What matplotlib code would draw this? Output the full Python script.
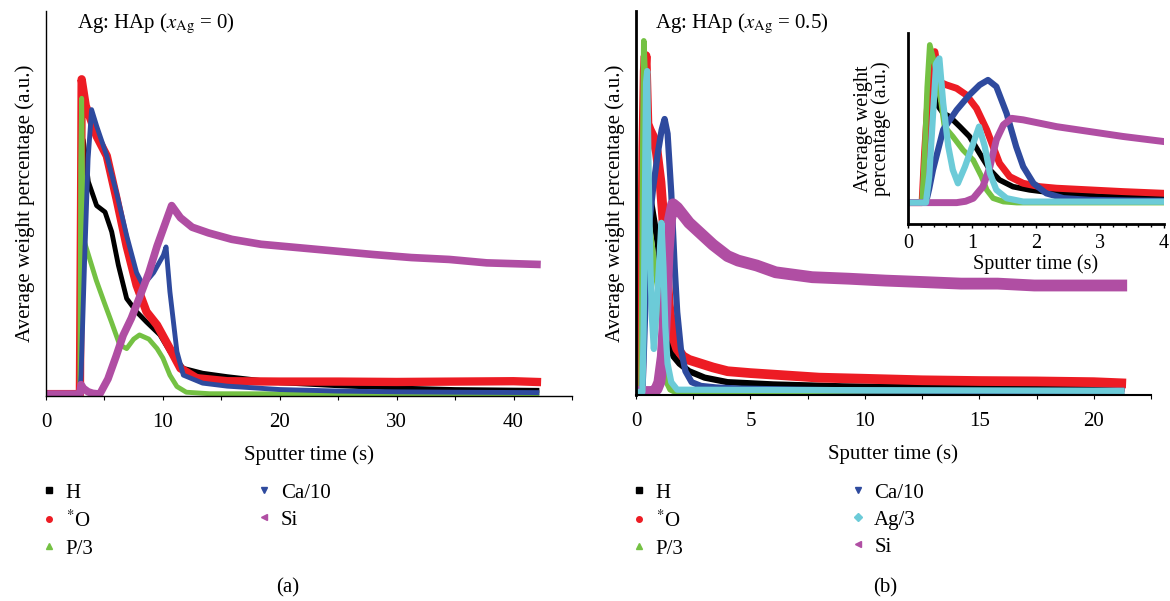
import matplotlib.pyplot as plt
from matplotlib.lines import Line2D
from matplotlib.ticker import MultipleLocator

plt.rcParams['font.family'] = ['Liberation Serif', 'DejaVu Serif']
plt.rcParams['mathtext.fontset'] = 'stix'

# (a) Ag: HAp, x_Ag = 0  -- sputter time (s) / relative intensity
a_h_t = [0, 2.9, 3.0, 3.19, 3.62, 4.33, 5.05, 5.62, 6.19, 6.9, 7.75, 8.6, 9.75, 10.6, 11.75, 13.4, 15.5, 20, 25, 30, 35, 42]
a_h_y = [0, 0, 40, 67, 56, 49.7, 48, 42.8, 34, 25.2, 21.7, 19, 15.6, 11.2, 6.8, 5.5, 4.6, 3.0, 2.2, 1.6, 1.2, 1.0]

a_o_t = [0, 2.9, 3.0, 3.05, 3.4, 3.76, 4.33, 5.2, 6.04, 6.9, 7.75, 8.6, 9.5, 10.6, 11.5, 12.9, 15.5, 20, 25, 30, 35, 40, 42]
a_o_y = [0, 0, 50, 83, 76, 73, 68, 62.8, 51.4, 39, 28.7, 21.7, 18.2, 12, 6.8, 4.2, 3.4, 3.3, 3.3, 3.2, 3.3, 3.4, 3.2]

a_p_t = [0, 2.9, 2.97, 3.05, 3.15, 3.3, 4.3, 5.0, 5.6, 6.3, 6.9, 7.5, 8.0, 8.8, 9.5, 10.0, 10.6, 11.2, 12.0, 14.0, 42]
a_p_y = [0, 0, 60, 78, 50, 40, 30, 24, 19, 13, 12, 14.5, 15.6, 14.5, 12, 9.5, 5, 2, 0.5, 0.1, 0]

a_ca_t = [0, 2.9, 3.0, 3.3, 3.6, 3.9, 4.33, 5.2, 6.04, 6.9, 7.75, 8.3, 9.2, 10.04, 10.27, 10.6, 11.2, 11.75, 13.4, 15.5, 20, 25, 30, 35, 42]
a_ca_y = [0, 0, 5, 35, 62, 75, 70.7, 62.8, 53, 41.8, 32, 28.7, 32, 36.6, 38.8, 27, 11.2, 5, 2.9, 2.1, 1.2, 0.8, 0.6, 0.5, 0.4]

a_si_t = [0, 2.9, 3.0, 3.2, 3.6, 4.0, 4.6, 5.3, 6.0, 6.6, 7.3, 8.0, 8.8, 9.5, 10.2, 10.75, 11.5, 12.5, 13.9, 15.9, 18.4, 21.6, 24.8, 28, 31.25, 34.5, 37.7, 42]
a_si_y = [0, 0, 2.5, 1.5, 0.6, 0.2, 0, 4, 10, 15.5, 20, 25.5, 32, 39, 45, 49.7, 46.5, 44, 42.5, 40.8, 39.5, 38.6, 37.7, 36.8, 36, 35.5, 34.6, 34.2]

# (b) Ag: HAp, x_Ag = 0.5
b_h_t = [0, 0.22, 0.27, 0.32, 0.37, 0.44, 0.55, 0.65, 0.81, 0.96, 1.12, 1.28, 1.43, 1.64, 1.9, 2.32, 3.0, 4.0, 6.0, 9.0, 13.0, 17.0, 21.2]
b_h_y = [0, 0, 30, 60, 72, 58.6, 52.7, 50.7, 44.8, 39, 29, 19.3, 13.4, 9.4, 7.5, 5.5, 3.8, 2.6, 2.0, 1.5, 1.2, 1.0, 0.9]

b_o_t = [0, 0.22, 0.26, 0.32, 0.38, 0.42, 0.5, 0.6, 0.76, 0.91, 1.07, 1.23, 1.33, 1.43, 1.59, 1.8, 2.06, 2.32, 2.84, 3.36, 4.0, 5.0, 6.5, 8.0, 10.0, 12.5, 15.0, 17.5, 20.0, 21.2]
b_o_y = [0, 0, 30, 65, 85, 89, 71, 69.4, 67.4, 63.5, 55.6, 42.9, 33, 23.2, 15.3, 11.4, 9.4, 8.5, 7.5, 6.5, 5.5, 5.0, 4.4, 3.8, 3.5, 3.1, 2.9, 2.8, 2.6, 2.3]

b_p_t = [0, 0.22, 0.26, 0.3, 0.34, 0.44, 0.52, 0.57, 0.7, 0.86, 1.02, 1.15, 1.23, 1.33, 1.49, 1.7, 21.2]
b_p_y = [0, 0, 29, 68, 93, 78, 58.6, 44.8, 39, 31, 25, 15.3, 7.5, 2.6, 0.6, 0, 0]

b_ca_t = [0, 0.28, 0.33, 0.39, 0.55, 0.76, 0.96, 1.12, 1.25, 1.38, 1.54, 1.69, 1.8, 1.96, 2.16, 2.43, 2.84, 3.5, 4.5, 7, 10, 15, 21.2]
b_ca_y = [0, 0, 8, 19.3, 43, 54.6, 63.5, 69.4, 72.3, 68.4, 52.7, 33, 21.2, 11.4, 5.5, 2.6, 1.6, 1.2, 0.9, 0.6, 0.4, 0.3, 0.3]

b_ag_t = [0, 0.28, 0.33, 0.37, 0.44, 0.49, 0.55, 0.63, 0.7, 0.78, 0.89, 1.02, 1.11, 1.2, 1.28, 1.38, 1.54, 1.8, 21.2]
b_ag_y = [0, 0, 15, 39, 82, 85, 58.6, 33, 19.3, 11.4, 21.2, 35, 44.8, 33, 17.3, 7.5, 2.6, 0.6, 0.3]

b_si_t = [0, 0.76, 0.9, 1.02, 1.17, 1.28, 1.38, 1.49, 1.62, 1.8, 2.06, 2.32, 2.84, 3.36, 4.0, 4.46, 5.27, 6.1, 7.7, 9.3, 10.9, 12.6, 14.2, 15.8, 17.4, 19.1, 21.2]
b_si_y = [0, 0, 0.8, 2.6, 9.4, 21.2, 37, 45.8, 49.7, 48.8, 46.8, 44.8, 41.9, 39, 36, 34.8, 33.5, 31.7, 30.4, 30, 29.5, 29.1, 28.7, 28.7, 28.2, 28.2, 28.2]

c_h = '#000000'
c_o = '#ed1c24'
c_p = '#74c143'
c_ca = '#2e4a9e'
c_ag = '#6ccbd8'
c_si = '#b04ea3'

FS = 15
FS_IN = 14.5

fig = plt.figure(figsize=(11.7, 6.01), dpi=100)
W, H = 1170, 601


def px_axes(l, r, b, t):
    return fig.add_axes([l / W, 1 - b / H, (r - l) / W, (b - t) / H])


def style(ax, lw_left, lw_bottom):
    for s in ('top', 'right'):
        ax.spines[s].set_visible(False)
    ax.spines['left'].set_linewidth(lw_left)
    ax.spines['bottom'].set_linewidth(lw_bottom)
    ax.set_yticks([])


ax1 = px_axes(46, 572, 396, 11)
ax1.plot(a_h_t, a_h_y, color=c_h, lw=3.5)
ax1.plot(a_o_t, a_o_y, color=c_o, lw=6)
ax1.plot(a_p_t, a_p_y, color=c_p, lw=3.5)
ax1.plot(a_ca_t, a_ca_y, color=c_ca, lw=3.5)
ax1.plot(a_si_t, a_si_y, color=c_si, lw=5.5)
ax1.set_xlim(0, 45)
ax1.set_ylim(-0.5, 101)
style(ax1, 1.0, 1.0)
ax1.xaxis.set_major_locator(MultipleLocator(10))
ax1.xaxis.set_minor_locator(MultipleLocator(5))
ax1.tick_params(axis='x', which='both', direction='out', length=3, width=0.8, labelsize=FS, pad=9)
ax1.set_xlabel('Sputter time (s)', fontsize=FS, labelpad=10)
ax1.set_ylabel('Average weight percentage (a.u.)', fontsize=FS, labelpad=8)
ax1.text(31 / 526, 0.998, r'Ag: HAp ($x_{\mathrm{Ag}}$ = 0)', transform=ax1.transAxes,
         fontsize=FS, va='top', ha='left')

ax2 = px_axes(636, 1151, 395, 11)
ax2.plot(b_h_t, b_h_y, color=c_h, lw=4.5)
ax2.plot(b_o_t, b_o_y, color=c_o, lw=7)
ax2.plot(b_p_t, b_p_y, color=c_p, lw=4)
ax2.plot(b_ca_t, b_ca_y, color=c_ca, lw=4.5)
ax2.plot(b_si_t, b_si_y, color=c_si, lw=8.5)
ax2.plot(b_ag_t, b_ag_y, color=c_ag, lw=4.5)
ax2.set_xlim(0, 22.5)
ax2.set_ylim(-0.8, 100.9)
style(ax2, 2.0, 1.5)
ax2.xaxis.set_major_locator(MultipleLocator(5))
ax2.xaxis.set_minor_locator(MultipleLocator(2.5))
ax2.tick_params(axis='x', which='both', direction='out', length=3, width=0.8, labelsize=FS, pad=9)
ax2.set_xlabel('Sputter time (s)', fontsize=FS, labelpad=10)
ax2.set_ylabel('Average weight percentage (a.u.)', fontsize=FS, labelpad=8)
ax2.text(19 / 515, 0.998, r'Ag: HAp ($x_{\mathrm{Ag}}$ = 0.5)', transform=ax2.transAxes,
         fontsize=FS, va='top', ha='left')

# inset: first 4 s of (b)
ax3 = px_axes(908, 1164, 224, 33)
ax3.plot(b_h_t, b_h_y, color=c_h, lw=4)
ax3.plot(b_o_t, b_o_y, color=c_o, lw=5)
ax3.plot(b_p_t, b_p_y, color=c_p, lw=4)
ax3.plot(b_ca_t, b_ca_y, color=c_ca, lw=4.5)
ax3.plot(b_si_t, b_si_y, color=c_si, lw=5)
ax3.plot(b_ag_t, b_ag_y, color=c_ag, lw=4.5)
ax3.set_xlim(0, 4)
ax3.set_ylim(-12.6, 100)
style(ax3, 2.0, 2.0)
ax3.patch.set_alpha(0)
ax3.xaxis.set_major_locator(MultipleLocator(1))
ax3.xaxis.set_minor_locator(MultipleLocator(0.2))
ax3.tick_params(axis='x', which='major', direction='out', length=3, width=1, labelsize=FS_IN, pad=4)
ax3.tick_params(axis='x', which='minor', direction='out', length=2, width=1)
ax3.set_xlabel('Sputter time (s)', fontsize=FS_IN, labelpad=1)
ax3.set_ylabel('Average weight\npercentage (a.u.)', fontsize=FS_IN, labelpad=12, linespacing=0.9)

labels_a = ['H', '$^{*}$O', 'P/3', 'Ca/10', 'Si']
markers_a = ['s', 'o', '^', 'v', '<']
colors_a = [c_h, c_o, c_p, c_ca, c_si]
labels_b = ['H', '$^{*}$O', 'P/3', 'Ca/10', 'Ag/3', 'Si']
markers_b = ['s', 'o', '^', 'v', 'D', '<']
colors_b = [c_h, c_o, c_p, c_ca, c_ag, c_si]


def handles(labels, markers, colors):
    return [Line2D([], [], ls='none', marker=m, color=c, ms=4, label=l)
            for l, m, c in zip(labels, markers, colors)]


leg_kw = dict(loc='upper left', ncol=2, frameon=False, fontsize=FS, handlelength=1.0,
              handletextpad=0.3, labelspacing=0.36, borderpad=0, borderaxespad=0)
fig.legend(handles=handles(labels_a, markers_a, colors_a), bbox_to_anchor=(38.6 / W, 1 - 483 / H),
           columnspacing=7.7, **leg_kw)
fig.legend(handles=handles(labels_b, markers_b, colors_b), bbox_to_anchor=(628.6 / W, 1 - 483 / H),
           columnspacing=7.85, **leg_kw)

fig.text(288 / W, 1 - 588 / H, '(a)', fontsize=FS, ha='center', va='center')
fig.text(885 / W, 1 - 588 / H, '(b)', fontsize=FS, ha='center', va='center')

fig.savefig('out.png', dpi=100)
